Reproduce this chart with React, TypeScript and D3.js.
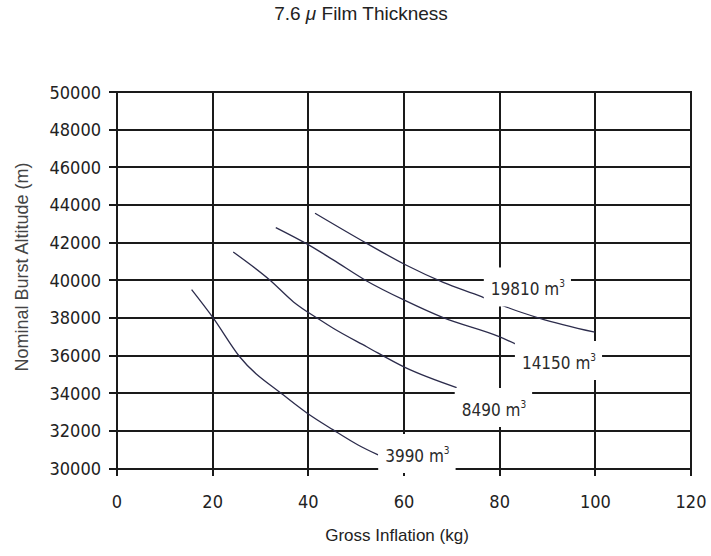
import React, { useEffect, useRef } from 'react';
import * as d3 from 'd3';

// axis ticks
const xTicks = [0, 20, 40, 60, 80, 100, 120];
const yTicks = [30000, 32000, 34000, 36000, 38000, 40000, 42000, 44000, 46000, 48000, 50000];

// gross inflation (kg) vs nominal burst altitude (m), one curve per balloon volume
const vol3990: [number, number][] = [
  [15.6, 39500], [20.1, 38000], [25.6, 35950], [34.8, 33900],
  [39.7, 32950], [45.2, 32050], [50.4, 31250], [54.6, 30720],
];
const vol8490: [number, number][] = [
  [24.3, 41500], [32.0, 40000], [36.9, 38850], [42.4, 37900],
  [45.2, 37450], [52.2, 36470], [60.3, 35360], [71.0, 34300],
];
const vol14150: [number, number][] = [
  [33.2, 42800], [39.7, 41930], [45.2, 41080], [52.2, 39960],
  [60.4, 38900], [68.2, 38010], [79.9, 37000], [83.4, 36610],
];
const vol19810: [number, number][] = [
  [41.4, 43560], [52.2, 41960], [60.4, 40810], [68.2, 39890],
  [76.2, 39130], [81.8, 38540], [88.4, 37980], [99.9, 37240],
];

const volumes = ['3990', '8490', '14150', '19810'];
const curves = [vol3990, vol8490, vol14150, vol19810];
// where each volume label sits (data units)
const labelAt: [number, number][] = [[62.8, 30664], [78.8, 33108], [92.4, 35604], [85.9, 39510]];

export default function App() {
  const ref = useRef<SVGSVGElement>(null);

  useEffect(() => {
    const svg = d3.select(ref.current);
    svg.selectAll('*').remove();

    const x = d3.scaleLinear().domain([0, 120]).range([117, 691]);
    const y = d3.scaleLinear().domain([30000, 50000]).range([468.5, 92]);
    const px = (v: number) => Math.round(x(v));
    const py = (v: number) => Math.round(y(v));

    const tickFont = "'DejaVu Sans Condensed', 'DejaVu Sans', sans-serif";
    const titleFont = "'Liberation Sans', Arial, sans-serif";

    // grid, which doubles as ticks and frame
    const grid = svg.append('g').attr('stroke', '#1a1a1a').attr('stroke-width', 2);
    grid.selectAll('line.h')
      .data(yTicks)
      .join('line')
      .attr('class', 'h')
      .attr('x1', 109)
      .attr('x2', px(120) + 1)
      .attr('y1', (d) => py(d))
      .attr('y2', (d) => py(d));
    grid.selectAll('line.v')
      .data(xTicks)
      .join('line')
      .attr('class', 'v')
      .attr('x1', (d) => px(d))
      .attr('x2', (d) => px(d))
      .attr('y1', py(50000) - 1)
      .attr('y2', py(30000) + 7);

    const line = d3.line<[number, number]>()
      .x((d) => x(d[0]))
      .y((d) => y(d[1]))
      .curve(d3.curveMonotoneX);

    svg.append('g')
      .selectAll('path')
      .data(curves)
      .join('path')
      .attr('fill', 'none')
      .attr('stroke', '#2c2c4c')
      .attr('stroke-width', 1.3)
      .attr('d', (d) => line(d));

    // volume labels on white boxes
    volumes.forEach((v, i) => {
      const cx = x(labelAt[i][0]);
      const cy = y(labelAt[i][1]);
      const g = svg.append('g');
      const rect = g.append('rect').attr('fill', '#fff');
      const t = g.append('text')
        .attr('x', cx)
        .attr('y', cy + 6)
        .attr('text-anchor', 'middle')
        .attr('font-family', tickFont)
        .attr('font-size', 17)
        .attr('fill', '#2a2a2a');
      t.append('tspan').text(`${v} m`);
      t.append('tspan').attr('dy', -8).attr('font-size', 10).text('3');
      const bb = (t.node() as SVGTextElement).getBBox();
      rect
        .attr('x', bb.x - 7)
        .attr('width', bb.width + 13)
        .attr('y', cy - 22)
        .attr('height', 39);
    });

    // tick labels
    svg.append('g')
      .selectAll('text')
      .data(yTicks)
      .join('text')
      .attr('x', 101)
      .attr('y', (d) => y(d) + 6.5)
      .attr('text-anchor', 'end')
      .attr('font-family', tickFont)
      .attr('font-size', 18)
      .attr('fill', '#222')
      .text((d) => d);

    svg.append('g')
      .selectAll('text')
      .data(xTicks)
      .join('text')
      .attr('x', (d) => x(d))
      .attr('y', 508)
      .attr('text-anchor', 'middle')
      .attr('font-family', tickFont)
      .attr('font-size', 18)
      .attr('fill', '#222')
      .text((d) => d);

    // titles
    const title = svg.append('text')
      .attr('x', 361)
      .attr('y', 20)
      .attr('text-anchor', 'middle')
      .attr('font-family', titleFont)
      .attr('font-size', 19)
      .attr('fill', '#222');
    title.append('tspan').text('7.6 ');
    title.append('tspan').attr('font-style', 'italic').text('\u03bc');
    title.append('tspan').text(' Film Thickness');

    svg.append('text')
      .attr('x', 397)
      .attr('y', 541)
      .attr('text-anchor', 'middle')
      .attr('font-family', titleFont)
      .attr('font-size', 17)
      .attr('fill', '#222')
      .text('Gross Inflation (kg)');

    svg.append('text')
      .attr('transform', 'translate(28, 267) rotate(-90)')
      .attr('text-anchor', 'middle')
      .attr('font-family', titleFont)
      .attr('font-size', 18)
      .attr('fill', '#444')
      .text('Nominal Burst Altitude (m)');
  }, []);

  return (
    <svg
      ref={ref}
      width={711}
      height={556}
      style={{ position: 'absolute', left: 0, top: 0, background: '#fff' }}
    />
  );
}
